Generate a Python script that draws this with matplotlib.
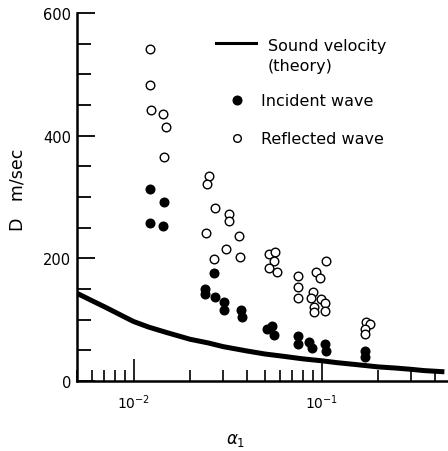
import numpy as np
import matplotlib.pyplot as plt
from matplotlib.lines import Line2D
from matplotlib.ticker import FixedLocator, NullFormatter

# theory curve (sound velocity)
theory_a = [0.005, 0.006, 0.007, 0.008, 0.009, 0.01, 0.012, 0.015, 0.02, 0.025, 0.03,
            0.04, 0.05, 0.06, 0.08, 0.1, 0.12, 0.15, 0.2, 0.25, 0.3, 0.35, 0.45]
theory_D = [143, 131, 121, 112, 104, 97, 88, 79, 68, 62, 56,
            49, 44, 41, 36, 33, 30, 27, 23, 21, 19, 17, 15]

# incident wave (filled dots)
incident_a = [0.0123, 0.0146, 0.0122, 0.0143,
              0.0267, 0.0239, 0.0239, 0.0270, 0.0301, 0.0301, 0.0371, 0.0375,
              0.0510, 0.0542, 0.0555,
              0.0745, 0.0745, 0.0853, 0.0887, 0.1038, 0.1050,
              0.171, 0.171]
incident_D = [313, 292, 258, 253,
              176, 150, 142, 137, 129, 116, 116, 104,
              85, 90, 75,
              73, 60, 64, 54, 60, 49,
              49, 39]

# reflected wave (open circles)
reflected_a = [0.0123, 0.0123, 0.0124, 0.0144, 0.0148, 0.0146,
               0.0251, 0.0245, 0.0270, 0.0320, 0.0320, 0.0242, 0.0362, 0.0309, 0.0366, 0.0267,
               0.0522, 0.0562, 0.0555, 0.0527, 0.0577,
               0.0752, 0.0752, 0.0752, 0.106, 0.0929, 0.0975, 0.0901, 0.0873, 0.0987,
               0.0911, 0.0911, 0.1038, 0.1038,
               0.173, 0.182, 0.171, 0.171]
reflected_D = [541, 483, 442, 435, 414, 365,
               334, 321, 282, 272, 261, 241, 236, 215, 202, 199,
               207, 210, 196, 184, 178,
               171, 153, 135, 196, 178, 168, 145, 135, 134,
               121, 113, 127, 114,
               96, 93, 85, 76]

y_ticks = [0, 200, 400, 600]

plt.rcParams['font.family'] = ['DejaVu Sans']
plt.rcParams['mathtext.fontset'] = 'dejavusans'

fig = plt.figure(figsize=(4.48, 4.52), dpi=100)
ax = fig.add_axes([77 / 448, 70 / 452, 376 / 448, 368 / 452])

ax.plot(theory_a, theory_D, color='black', linewidth=3.6, solid_capstyle='butt')
ax.plot(incident_a, incident_D, 'o', color='black', markersize=6.2, linestyle='none')
ax.plot(reflected_a, reflected_D, 'o', markerfacecolor='white', markeredgecolor='black',
        markeredgewidth=1.0, markersize=6.2, linestyle='none')

ax.set_xscale('log')
ax.set_xlim(0.005, 0.5)
ax.set_ylim(0, 600)

for side in ['top', 'right']:
    ax.spines[side].set_visible(False)
for side in ['left', 'bottom']:
    ax.spines[side].set_linewidth(1.8)

ax.set_yticks(y_ticks)
ax.set_yticklabels([str(v) for v in y_ticks])
ax.yaxis.set_minor_locator(FixedLocator([50, 100, 150, 250, 300, 350, 450, 500, 550]))
ax.set_xticks([0.01, 0.1])
ax.set_xticklabels([r'$10^{-2}$', r'$10^{-1}$'])
ax.xaxis.set_minor_formatter(NullFormatter())

ax.tick_params(axis='y', which='major', direction='in', length=13, width=1.3, labelsize=10.5, pad=4)
ax.tick_params(axis='y', which='minor', direction='in', length=10, width=1.3)
ax.tick_params(axis='x', which='major', direction='in', length=16, width=1.2, labelsize=10, pad=8)
ax.tick_params(axis='x', which='minor', direction='in', length=8, width=1.2)

fig.text(17 / 448, 1 - 190 / 452, 'D   m/sec', rotation=90, ha='center', va='center', fontsize=12.5)
fig.text(236 / 448, 1 - 440 / 452, r'$\alpha_1$', ha='center', va='center', fontsize=12)

# legend drawn by hand to match the original layout
fig.add_artist(Line2D([216 / 448, 256 / 448], [1 - 44 / 452, 1 - 44 / 452],
                      color='black', linewidth=2.2, transform=fig.transFigure))
fig.text(268 / 448, 1 - 46 / 452, 'Sound velocity', ha='left', va='center', fontsize=11.5)
fig.text(268 / 448, 1 - 67 / 452, '(theory)', ha='left', va='center', fontsize=11.5)
fig.add_artist(Line2D([237 / 448], [1 - 101 / 452], marker='o', color='black',
                      markersize=6.2, linestyle='none', transform=fig.transFigure))
fig.text(261 / 448, 1 - 102 / 452, 'Incident wave', ha='left', va='center', fontsize=11.5)
fig.add_artist(Line2D([237 / 448], [1 - 139 / 452], marker='o', markerfacecolor='white',
                      markeredgecolor='black', markeredgewidth=1.0, markersize=5.5,
                      linestyle='none', transform=fig.transFigure))
fig.text(261 / 448, 1 - 140 / 452, 'Reflected wave', ha='left', va='center', fontsize=11.5)

fig.savefig('out.png', dpi=100)
